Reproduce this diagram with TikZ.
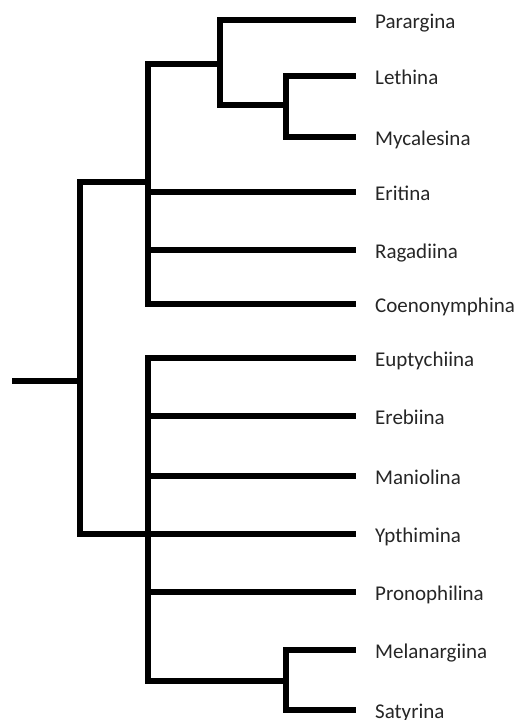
\documentclass[tikz,border=0pt]{standalone}
\usepackage{fontspec}
\setmainfont{Carlito}
\usepackage{tikz}
\usetikzlibrary{positioning}
\definecolor{TreeInk}{HTML}{000000}
\definecolor{TaxonText}{HTML}{262626}
\tikzset{
  branch/.style={draw=TreeInk,line width=5.6pt,line join=miter},
  taxon/.style={inner sep=0pt,text=TaxonText,font=\fontsize{21}{25}\selectfont,
    text height=13.5pt,text depth=0pt,yshift=-2pt}
}

\begin{document}
\begin{tikzpicture}[x=1pt,y=-1pt]
\path[use as bounding box] (0,0) rectangle (516,720);
% tips
\coordinate (parargina) at (356,20);
\coordinate (lethina) at (356,76);
\coordinate (mycalesina) at (356,137);
\coordinate (eritina) at (356,192);
\coordinate (ragadiina) at (356,250);
\coordinate (coenonymphina) at (356,304);
\coordinate (euptychiina) at (356,358);
\coordinate (erebiina) at (356,416);
\coordinate (maniolina) at (356,476);
\coordinate (ypthimina) at (356,534);
\coordinate (pronophilina) at (356,592);
\coordinate (melanargiina) at (356,650);
\coordinate (satyrina) at (356,710);
% splits
\coordinate (lethmyc) at (286,105);
\coordinate (parclade) at (220,64);
\coordinate (upper) at (148,182);
\coordinate (melsat) at (286,681);
\coordinate (lower) at (148,534);
\coordinate (root) at (80,381);
\coordinate (base) at (12,381);
% names
\node[taxon,right=19pt of parargina] (t-parargina) {Parargina};
\node[taxon,right=19pt of lethina] (t-lethina) {Lethina};
\node[taxon,right=19pt of mycalesina] (t-mycalesina) {Mycalesina};
\node[taxon,right=19pt of eritina] (t-eritina) {Eritina};
\node[taxon,right=19pt of ragadiina] (t-ragadiina) {Ragadiina};
\node[taxon,right=19pt of coenonymphina] (t-coenonymphina) {Coenonymphina};
\node[taxon,right=19pt of euptychiina] (t-euptychiina) {Euptychiina};
\node[taxon,right=19pt of erebiina] (t-erebiina) {Erebiina};
\node[taxon,right=19pt of maniolina] (t-maniolina) {Maniolina};
\node[taxon,right=19pt of ypthimina] (t-ypthimina) {Ypthimina};
\node[taxon,right=19pt of pronophilina] (t-pronophilina) {Pronophilina};
\node[taxon,right=19pt of melanargiina] (t-melanargiina) {Melanargiina};
\node[taxon,right=19pt of satyrina] (t-satyrina) {Satyrina};
% branches
\draw[branch] (base) -- (root);
\draw[branch] (root) |- (upper);
\draw[branch] (root) |- (lower);
\draw[branch] (upper) |- (parclade);
\draw[branch] (upper) |- (eritina);
\draw[branch] (upper) |- (ragadiina);
\draw[branch] (upper) |- (coenonymphina);
\draw[branch] (parclade) |- (parargina);
\draw[branch] (parclade) |- (lethmyc);
\draw[branch] (lethmyc) |- (lethina);
\draw[branch] (lethmyc) |- (mycalesina);
\draw[branch] (lower) |- (euptychiina);
\draw[branch] (lower) |- (erebiina);
\draw[branch] (lower) |- (maniolina);
\draw[branch] (lower) -- (ypthimina);
\draw[branch] (lower) |- (pronophilina);
\draw[branch] (lower) |- (melsat);
\draw[branch] (melsat) |- (melanargiina);
\draw[branch] (melsat) |- (satyrina);
\end{tikzpicture}
\end{document}
